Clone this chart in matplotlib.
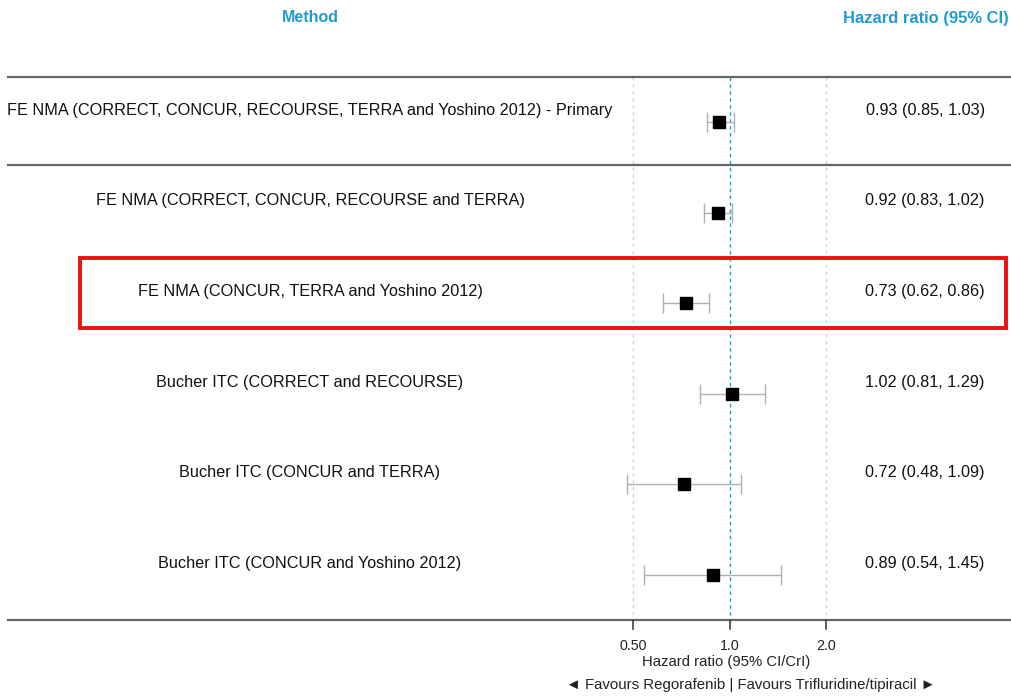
import numpy as np
import matplotlib.pyplot as plt
from matplotlib.patches import Rectangle
import matplotlib.transforms as mtransforms

plt.rcParams['font.family'] = ['Liberation Sans', 'DejaVu Sans']

# datos del forest plot
metodos = [
    "FE NMA (CORRECT, CONCUR, RECOURSE, TERRA and Yoshino 2012) - Primary",
    "FE NMA (CORRECT, CONCUR, RECOURSE and TERRA)",
    "FE NMA (CONCUR, TERRA and Yoshino 2012)",
    "Bucher ITC (CORRECT and RECOURSE)",
    "Bucher ITC (CONCUR and TERRA)",
    "Bucher ITC (CONCUR and Yoshino 2012)",
]
hr = [0.93, 0.92, 0.73, 1.02, 0.72, 0.89]
ic_bajo = [0.85, 0.83, 0.62, 0.81, 0.48, 0.54]
ic_alto = [1.03, 1.02, 0.86, 1.29, 1.09, 1.45]
ticks = [0.5, 1.0, 2.0]
ticks_txt = ["0.50", "1.0", "2.0"]

azul = "#1f9ad6"

W, H = 1011, 696
fig = plt.figure(figsize=(W / 100, H / 100), dpi=100)
ax = fig.add_axes([0, 0, 1, 1])
ax.set_xscale("log", base=2)

# escala: 0.5 en x=633 px, 2.0 en x=826 px
px_por_log2 = (826 - 633) / 2
x_izq = -1 - 633 / px_por_log2
x_der = 1 + (W - 826) / px_por_log2
ax.set_xlim(2 ** x_izq, 2 ** x_der)
# filas: fila 0 en y=122 px, separacion ~90.6 px
fila0, paso = 122, 90.6
ax.set_ylim((H - fila0) / paso, -fila0 / paso)
ax.axis("off")

trans = mtransforms.blended_transform_factory(ax.transAxes, ax.transData)
y = np.arange(len(hr))

# lineas verticales de referencia
for v in [0.5, 2.0]:
    ax.plot([v, v], [-0.5, 5.5], color="#cccccc", lw=1, ls=(0, (2, 3)), zorder=1)
ax.plot([1.0, 1.0], [-0.5, 5.55], color=azul, lw=1, ls=(0, (2.5, 2.5)), zorder=1)

# separadores horizontales
for yl in [-0.5, 0.48, 5.5]:
    ax.plot([0.008, 1], [yl, yl], transform=trans, color="#666666", lw=1.6, zorder=2)

# intervalos y puntos
ax.errorbar(hr, y, xerr=[np.array(hr) - ic_bajo, np.array(ic_alto) - hr],
            fmt="none", ecolor="#b0b0b0", elinewidth=1, capsize=7, capthick=1, zorder=3)
ax.plot(hr, y, "s", color="black", markersize=8.8, zorder=4)

# textos de las columnas
for i in range(len(hr)):
    ax.text(0.3066, y[i] - 0.13, metodos[i], transform=trans, ha="center", va="center",
            fontsize=11.7, color="#111111")
    ax.text(0.915, y[i] - 0.13, f"{hr[i]:.2f} ({ic_bajo[i]:.2f}, {ic_alto[i]:.2f})",
            transform=trans, ha="center", va="center", fontsize=11.7, color="#111111")

ax.text(0.3066, (18 - fila0) / paso, "Method", transform=trans, ha="center", va="center",
        fontsize=11.5, fontweight="bold", color=azul)
ax.text(0.9155, (18 - fila0) / paso, "Hazard ratio (95% CI)", transform=trans,
        ha="center", va="center", fontsize=11.9, fontweight="bold", color=azul)

# eje inferior
for t, tt in zip(ticks, ticks_txt):
    ax.plot([t, t], [5.5, 5.5 + 9 / paso], color="#444444", lw=1.2, zorder=2)
    ax.text(t, (646 - fila0) / paso, tt, ha="center", va="center", fontsize=10.3, color="#222222")
ax.text(726 / W, (662 - fila0) / paso, "Hazard ratio (95% CI/CrI)", transform=trans,
        ha="center", va="center", fontsize=10.7, color="#222222")
ax.text(751 / W, (685 - fila0) / paso, "◄ Favours Regorafenib | Favours Trifluridine/tipiracil ►",
        transform=trans, ha="center", va="center", fontsize=10.8, color="#222222")

# recuadro rojo
ax.add_patch(Rectangle((80 / W, (258 - fila0) / paso), (1006 - 80) / W, 70 / paso,
                       transform=trans, fill=False, edgecolor="#ee1111", lw=2.8, zorder=5))

fig.savefig("out.png", dpi=100)
